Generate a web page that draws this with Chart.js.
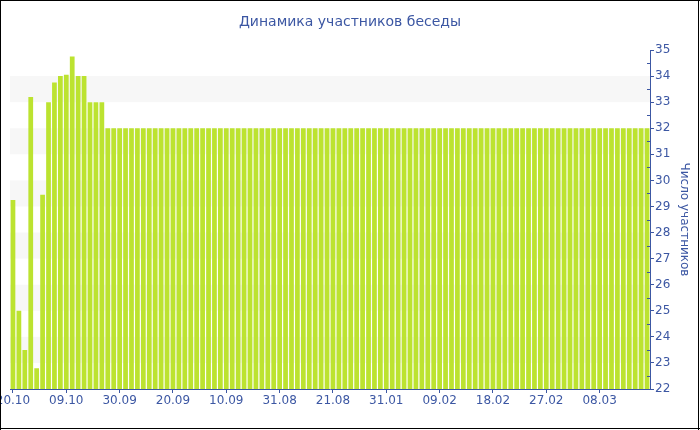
<!DOCTYPE html>
<html>
<head>
<meta charset="utf-8">
<script src="https://cdn.jsdelivr.net/npm/chart.js@4"></script>
<style>
  body { margin: 0; background: #fff; }
  canvas { display: block; }
</style>
</head>
<body>
<canvas id="chart" width="700" height="430"></canvas>
<script>
// tick labels on the x axis, one every 9 bars
const tickLabels = ['20.10', '09.10', '30.09', '20.09', '10.09', '31.08', '21.08', '31.01', '09.02', '18.02', '27.02', '08.03'];
const tickEvery = 9;

// participants per bar, left to right
const members = [
  29.25, 25, 23.5, 33.2, 22.8, 29.45, 33, 33.75, 34, 34.05, 34.75, 34, 34, 33, 33, 33,
  32, 32, 32, 32, 32, 32, 32, 32, 32, 32, 32, 32, 32, 32, 32, 32, 32, 32, 32, 32, 32, 32, 32,
  32, 32, 32, 32, 32, 32, 32, 32, 32, 32, 32, 32, 32, 32, 32, 32, 32, 32, 32, 32, 32, 32, 32,
  32, 32, 32, 32, 32, 32, 32, 32, 32, 32, 32, 32, 32, 32, 32, 32, 32, 32, 32, 32, 32, 32, 32,
  32, 32, 32, 32, 32, 32, 32, 32, 32, 32, 32, 32, 32, 32, 32, 32, 32, 32, 32, 32, 32, 32, 32
];

const title = 'Динамика участников беседы';
const yTitle = 'Число участников';

const blue = '#3c57a3';
const barColor = '#bce330';
const bandColor = '#f7f7f7';

Chart.defaults.font.family = '"DejaVu Sans", sans-serif';

const categories = members.map((v, i) => i);

// grey bands, title, minor ticks and the frame
const decor = {
  id: 'decor',
  beforeDatasetsDraw(chart) {
    const {ctx, chartArea: a} = chart;
    const y = chart.scales.y;
    ctx.save();
    ctx.fillStyle = bandColor;
    for (let v = 23; v < 35; v += 2) {
      const top = y.getPixelForValue(v + 1);
      const bot = y.getPixelForValue(v);
      ctx.fillRect(a.left, top, a.right - a.left, bot - top);
    }
    ctx.restore();
  },
  afterDraw(chart) {
    const {ctx, chartArea: a} = chart;
    const y = chart.scales.y;
    ctx.save();
    ctx.strokeStyle = blue;
    ctx.lineWidth = 1;
    for (let v = 22.5; v < 35; v += 1) {
      const py = Math.round(y.getPixelForValue(v)) + 0.5;
      ctx.beginPath();
      ctx.moveTo(a.right - 3, py);
      ctx.lineTo(a.right, py);
      ctx.stroke();
    }
    ctx.fillStyle = blue;
    ctx.font = '14px "DejaVu Sans"';
    ctx.textAlign = 'center';
    ctx.textBaseline = 'middle';
    ctx.fillText(title, 350, 22);
    ctx.fillStyle = '#000';
    ctx.fillRect(0, 0, 700, 1);
    ctx.fillRect(0, 0, 1, 430);
    ctx.fillRect(698, 0, 1, 430);
    ctx.fillRect(0, 428, 700, 1);
    ctx.restore();
  }
};

new Chart(document.getElementById('chart'), {
  type: 'bar',
  data: {
    labels: categories,
    datasets: [{
      data: members,
      backgroundColor: barColor,
      borderWidth: 0,
      barPercentage: 0.8,
      categoryPercentage: 1
    }]
  },
  options: {
    responsive: false,
    animation: false,
    devicePixelRatio: 1,
    layout: { padding: { left: 10, top: 50, right: 0, bottom: 0 } },
    plugins: {
      legend: { display: false },
      tooltip: { enabled: false }
    },
    scales: {
      x: {
        grid: {
          offset: false,
          drawOnChartArea: false,
          tickLength: 4,
          color: (c) => (c.index % tickEvery === 0 ? blue : 'transparent')
        },
        border: { color: blue },
        ticks: {
          autoSkip: false,
          maxRotation: 0,
          color: blue,
          font: { size: 12 },
          padding: 1,
          callback: (v, i) => (i % tickEvery === 0 ? tickLabels[i / tickEvery] : '')
        },
        afterFit(s) { s.height = 41; s.paddingLeft = 0; s.paddingRight = 0; }
      },
      y: {
        position: 'right',
        min: 22,
        max: 35,
        grid: { drawOnChartArea: false, tickLength: 4, color: blue },
        border: { color: blue },
        ticks: { stepSize: 1, color: blue, font: { size: 12 }, padding: 1 },
        title: { display: true, text: yTitle, color: blue, font: { size: 12 }, padding: { top: 9, bottom: 0 } },
        afterFit(s) { s.width = 50; s.paddingTop = 0; s.paddingBottom = 0; }
      }
    }
  },
  plugins: [decor]
});
</script>
</body>
</html>
